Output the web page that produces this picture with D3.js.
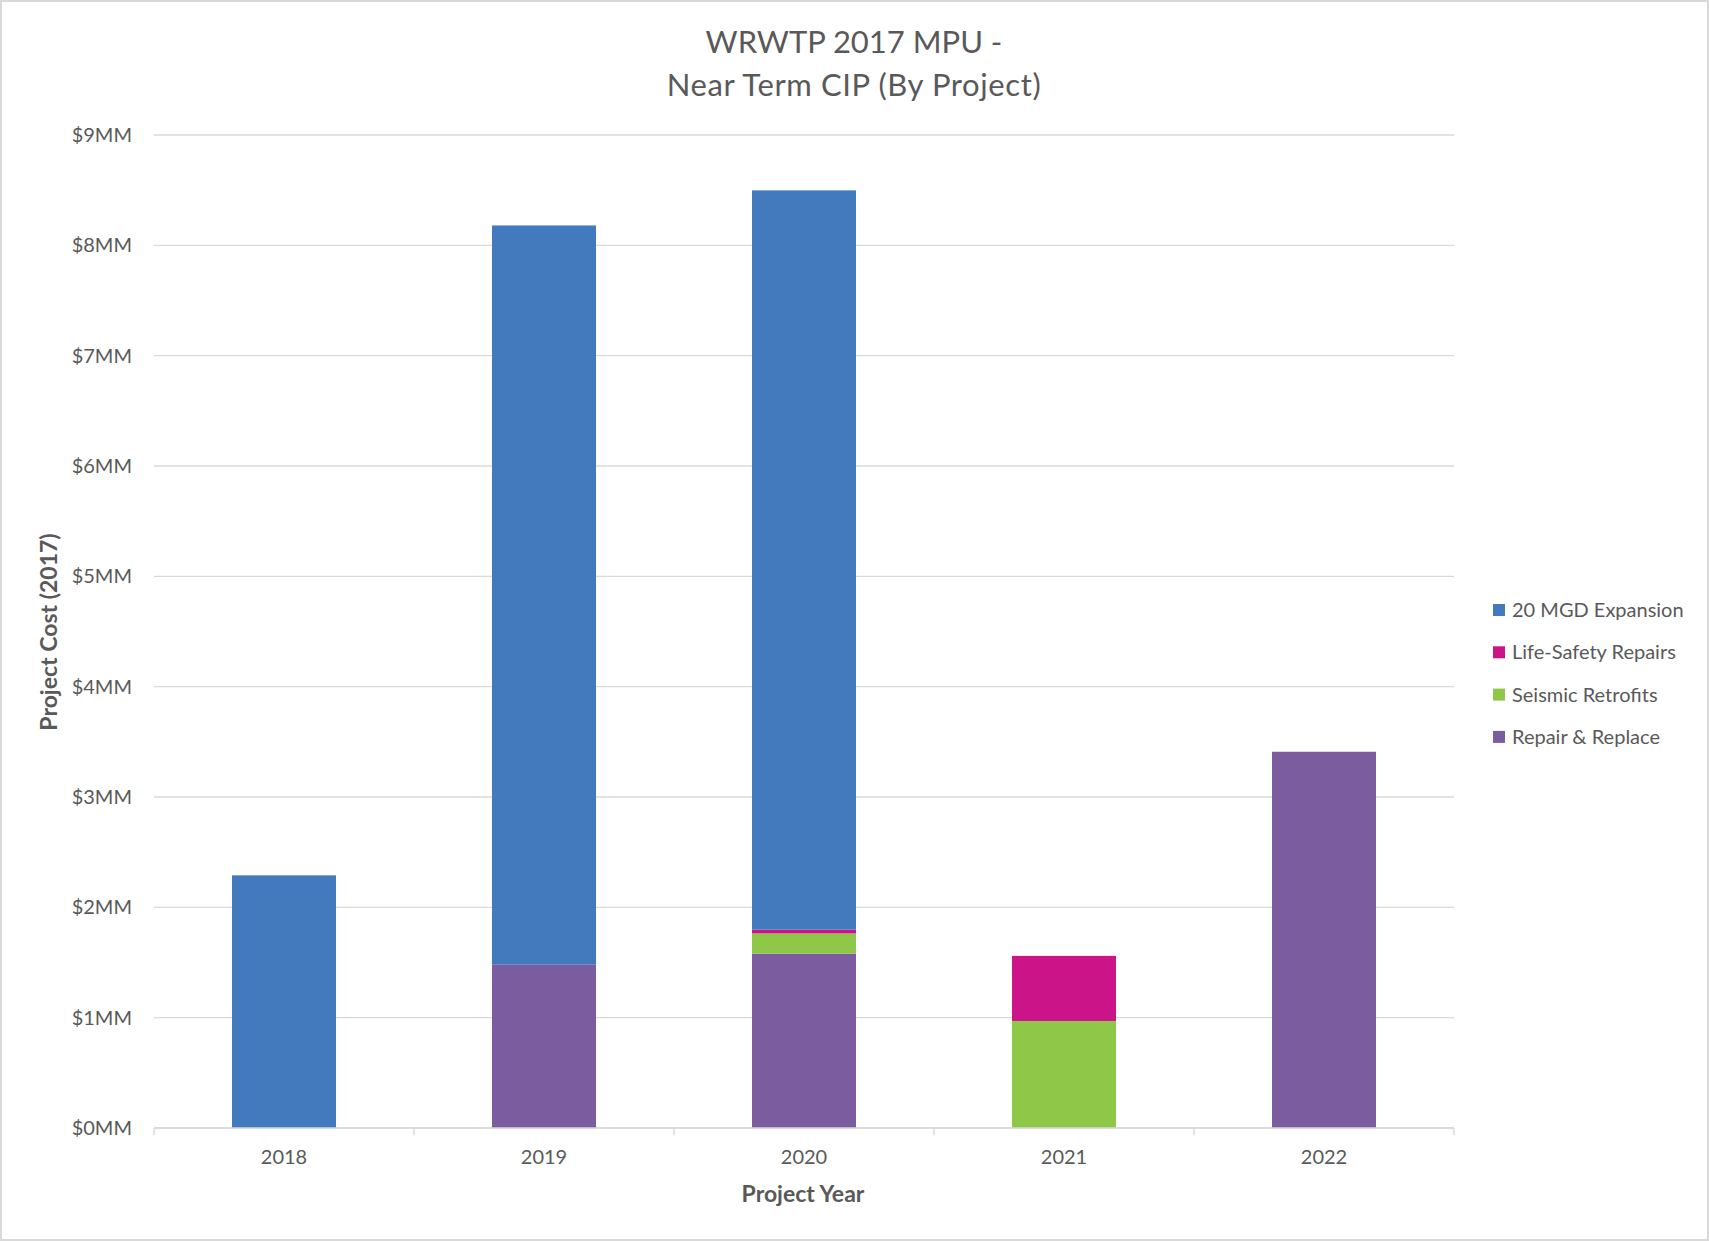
<!DOCTYPE html>
<html>
<head>
<meta charset="utf-8">
<script src="https://cdn.jsdelivr.net/npm/d3@7"></script>
<style>
  body { margin: 0; background: #fff; }
  text { font-family: Lato, "Open Sans", sans-serif; fill: #595959; }
</style>
</head>
<body>
<div class="chart"></div>
<script>
const w = 1709;
const h = 1241;

// data (in $MM)
const years = ["2018", "2019", "2020", "2021", "2022"];
const series = ["20 MGD Expansion", "Life-Safety Repairs", "Seismic Retrofits", "Repair & Replace"];
const colors = ["#427abd", "#cc1489", "#8fc748", "#7b5c9e"];
const expansion = [2.29, 6.70, 6.70, 0, 0];
const lifeSafety = [0, 0, 0.034, 0.59, 0];
const seismic = [0, 0, 0.184, 0.97, 0];
const repair = [0, 1.48, 1.58, 0, 3.41];
const yTicks = [0, 1, 2, 3, 4, 5, 6, 7, 8, 9];

const rows = years.map((y, i) => ({
  year: y,
  "20 MGD Expansion": expansion[i],
  "Life-Safety Repairs": lifeSafety[i],
  "Seismic Retrofits": seismic[i],
  "Repair & Replace": repair[i]
}));

const svg = d3.select(".chart")
  .append("svg")
  .attr("width", w)
  .attr("height", h);

// outer border
svg.append("rect")
  .attr("x", 1).attr("y", 1)
  .attr("width", w - 2).attr("height", h - 2)
  .attr("fill", "#fff")
  .attr("stroke", "#d9d9d9")
  .attr("stroke-width", 2);

const plotL = 154, plotR = 1454, plotT = 135, plotB = 1128;

const x = d3.scaleBand()
  .domain(years)
  .range([plotL, plotR])
  .paddingInner(0.6)
  .paddingOuter(0.3);

const y = d3.scaleLinear()
  .domain([0, 9])
  .range([plotB, plotT]);

// gridlines
svg.append("g")
  .selectAll("line")
  .data(yTicks)
  .enter().append("line")
  .attr("x1", plotL).attr("x2", plotR)
  .attr("y1", d => y(d)).attr("y2", d => y(d))
  .attr("stroke", "#d9d9d9")
  .attr("stroke-width", 1.3);

// y tick labels
svg.append("g")
  .selectAll("text")
  .data(yTicks)
  .enter().append("text")
  .attr("x", 132)
  .attr("y", d => y(d))
  .attr("dy", "0.35em")
  .attr("text-anchor", "end")
  .attr("font-size", 20)
  .text(d => "$" + d + "MM");

// stacked bars
const stack = d3.stack().keys(series.slice().reverse());
const layers = stack(rows);

svg.append("g")
  .selectAll("g")
  .data(layers)
  .enter().append("g")
  .attr("fill", d => colors[series.indexOf(d.key)])
  .selectAll("rect")
  .data(d => d)
  .enter().append("rect")
  .attr("x", d => x(d.data.year))
  .attr("width", x.bandwidth())
  .attr("y", d => y(d[1]))
  .attr("height", d => y(d[0]) - y(d[1]));

// x axis line and ticks
const outer = (plotR - plotL) / years.length;
svg.append("line")
  .attr("x1", plotL).attr("x2", plotR)
  .attr("y1", plotB).attr("y2", plotB)
  .attr("stroke", "#d9d9d9")
  .attr("stroke-width", 1.5);

svg.append("g")
  .selectAll("line")
  .data(d3.range(years.length + 1))
  .enter().append("line")
  .attr("x1", i => plotL + i * outer)
  .attr("x2", i => plotL + i * outer)
  .attr("y1", plotB)
  .attr("y2", plotB + 7)
  .attr("stroke", "#d9d9d9")
  .attr("stroke-width", 1.5);

svg.append("g")
  .selectAll("text")
  .data(years)
  .enter().append("text")
  .attr("x", d => x(d) + x.bandwidth() / 2)
  .attr("y", 1157)
  .attr("dy", "0.35em")
  .attr("text-anchor", "middle")
  .attr("font-size", 20)
  .text(d => d);

// titles
svg.append("text")
  .attr("x", 854).attr("y", 42)
  .attr("dy", "0.35em")
  .attr("text-anchor", "middle")
  .attr("font-size", 31)
  .text("WRWTP 2017 MPU -");

svg.append("text")
  .attr("x", 854).attr("y", 85)
  .attr("dy", "0.35em")
  .attr("text-anchor", "middle")
  .attr("font-size", 31)
  .attr("letter-spacing", 0.6)
  .text("Near Term CIP (By Project)");

svg.append("text")
  .attr("x", 803).attr("y", 1194)
  .attr("dy", "0.35em")
  .attr("text-anchor", "middle")
  .attr("font-size", 23)
  .attr("font-weight", "bold")
  .text("Project Year");

svg.append("text")
  .attr("transform", "translate(49,632) rotate(-90)")
  .attr("dy", "0.35em")
  .attr("text-anchor", "middle")
  .attr("font-size", 23)
  .attr("font-weight", "bold")
  .text("Project Cost (2017)");

// legend
const legend = svg.append("g")
  .selectAll("g")
  .data(series)
  .enter().append("g")
  .attr("transform", (d, i) => `translate(1493,${610 + i * 42.3})`);

legend.append("rect")
  .attr("x", 0).attr("y", -6)
  .attr("width", 12).attr("height", 12)
  .attr("fill", (d, i) => colors[i]);

legend.append("text")
  .attr("x", 19)
  .attr("dy", "0.35em")
  .attr("font-size", 20)
  .text(d => d);
</script>
</body>
</html>
